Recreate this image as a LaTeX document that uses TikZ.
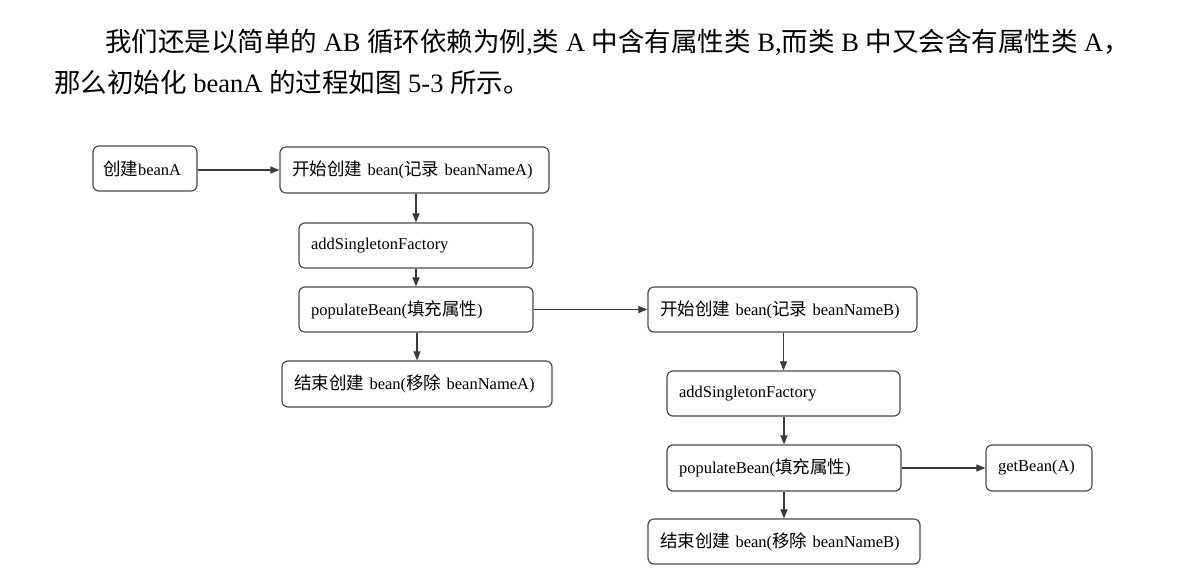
\documentclass[tikz,border=0pt]{standalone}
\usepackage{fontspec}
\setmainfont{Liberation Serif}
\newfontfamily\cjkfont{Noto Sans CJK SC}
\newcommand\zhtxt[1]{{\cjkfont #1}}
\newcommand\bzh[1]{{\cjkfont\fontsize{17.5}{19}\selectfont #1}}
\usetikzlibrary{arrows.meta}
\definecolor{linegray}{HTML}{3A3A3A}
\definecolor{boxgray}{HTML}{4A4A4A}
\tikzset{
  stepbox/.style={draw=boxgray, line width=1.2pt, rounded corners=6pt, rectangle,
    inner xsep=12pt, inner ysep=0pt, align=left, font=\fontsize{16.5}{18}\selectfont},
  flow/.style={draw=linegray, line width=1.1pt, -{Triangle[length=9pt,width=7pt]}},
  para/.style={inner sep=0pt, font=\fontsize{26.5}{32}\selectfont, anchor=west}
}
\begin{document}
\begin{tikzpicture}[x=1pt,y=-1pt]
\useasboundingbox (0,0) rectangle (1192,576);
\fill[white] (0,0) rectangle (1192,576);

\node[para] (l1) at (105,42) {\zhtxt{我们还是以简单的} AB \zhtxt{循环依赖为例},\zhtxt{类} A \zhtxt{中含有属性类} B,\zhtxt{而类} B \zhtxt{中又会含有属性类} A\zhtxt{，}};
\node[para] (l2) at (54,82) {\zhtxt{那么初始化} beanA \zhtxt{的过程如图} 5-3 \zhtxt{所示。}};

\node[stepbox, text width=84pt, inner xsep=10pt, minimum height=45pt] (a1) at (145,168.5) {\mbox{\bzh{创建}beanA}};
\node[stepbox, text width=245pt, minimum height=46pt] (a2) at (414.5,170) {\mbox{\bzh{开始创建} bean(\bzh{记录} beanNameA)}};
\node[stepbox, text width=210pt, minimum height=45pt] (a3) at (416,245.5) {\mbox{addSingletonFactory}};
\node[stepbox, text width=210pt, minimum height=45pt] (a4) at (416,309.5) {\mbox{populateBean(\bzh{填充属性})}};
\node[stepbox, text width=246pt, minimum height=46pt] (a5) at (417,384) {\mbox{\bzh{结束创建} bean(\bzh{移除} beanNameA)}};

\node[stepbox, text width=245pt, minimum height=45pt] (b1) at (782.5,309.5) {\mbox{\bzh{开始创建} bean(\bzh{记录} beanNameB)}};
\node[stepbox, text width=209pt, minimum height=45pt] (b2) at (783.5,393.5) {\mbox{addSingletonFactory}};
\node[stepbox, text width=210pt, minimum height=46pt] (b3) at (784,468) {\mbox{populateBean(\bzh{填充属性})}};
\node[stepbox, text width=82pt, minimum height=46pt] (g) at (1039,468) {\mbox{getBean(A)}};
\node[stepbox, text width=248pt, minimum height=45pt] (b5) at (784,541.5) {\mbox{\bzh{结束创建} bean(\bzh{移除} beanNameB)}};

\draw[flow] (a1.east |- a2) -- (a2.west);
\draw[flow] (a2.south -| a3) -- (a3.north);
\draw[flow] (a3.south) -- (a4.north);
\draw[flow] (a4.south -| a5) -- (a5.north);
\draw[flow] (a4.east) -- (b1.west);
\draw[flow] (b1.south -| b2) -- (b2.north);
\draw[flow] (b2.south -| b3) -- (b3.north);
\draw[flow] (b3.east) -- (g.west);
\draw[flow] (b3.south) -- (b5.north);
\end{tikzpicture}
\end{document}
